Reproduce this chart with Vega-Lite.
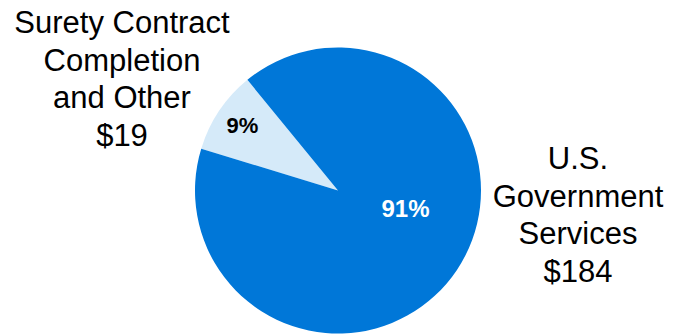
{
  "$schema": "https://vega.github.io/schema/vega-lite/v6.json",
  "width": 670,
  "height": 289,
  "autosize": {"type": "none"},
  "padding": {"left": 3, "top": 46, "right": 0, "bottom": 0},
  "background": "white",
  "config": {"view": {"stroke": null}},
  "data": {
    "values": [
      {"name": "Surety Contract Completion and Other", "label": "Surety Contract|Completion|and Other|$19", "value": 19, "pct": "9%"},
      {"name": "U.S. Government Services", "label": "U.S.|Government|Services|$184", "value": 184, "pct": "91%"}
    ]
  },
  "encoding": {
    "theta": {"field": "value", "type": "quantitative", "stack": true, "scale": {"range": [5.009, 11.292]}},
    "order": {"field": "value", "type": "quantitative", "sort": "ascending"}
  },
  "layer": [
    {
      "mark": {"type": "arc", "outerRadius": 143},
      "encoding": {
        "color": {
          "field": "name",
          "type": "nominal",
          "scale": {"domain": ["Surety Contract Completion and Other", "U.S. Government Services"], "range": ["#D5EAF9", "#0077D8"]},
          "legend": null
        }
      }
    },
    {
      "mark": {"type": "text", "radius": 115, "font": "Liberation Sans, Arial", "fontWeight": "bold", "fontSize": 22, "color": "black", "align": "center", "baseline": "middle"},
      "encoding": {
        "text": {"condition": {"test": "datum.value < 100", "field": "pct", "type": "nominal"}, "value": ""}
      }
    },
    {
      "transform": [{"filter": "datum.value > 100"}],
      "mark": {"type": "text", "radius": 0, "dx": 67.5, "dy": 19.5, "font": "Liberation Sans, Arial", "fontWeight": "bold", "fontSize": 24, "color": "white", "align": "center", "baseline": "middle"},
      "encoding": {"text": {"field": "pct", "type": "nominal"}}
    },
    {
      "transform": [{"filter": "datum.value < 100"}],
      "mark": {"type": "text", "radius": 0, "dx": -216, "dy": -166.5, "font": "Liberation Sans, Arial", "fontSize": 31, "lineHeight": 37.5, "lineBreak": "|", "color": "black", "align": "center", "baseline": "middle"},
      "encoding": {"text": {"field": "label", "type": "nominal"}}
    },
    {
      "transform": [{"filter": "datum.value > 100"}],
      "mark": {"type": "text", "radius": 0, "dx": 240, "dy": -30.5, "font": "Liberation Sans, Arial", "fontSize": 31, "lineHeight": 37.5, "lineBreak": "|", "color": "black", "align": "center", "baseline": "middle"},
      "encoding": {"text": {"field": "label", "type": "nominal"}}
    }
  ]
}
